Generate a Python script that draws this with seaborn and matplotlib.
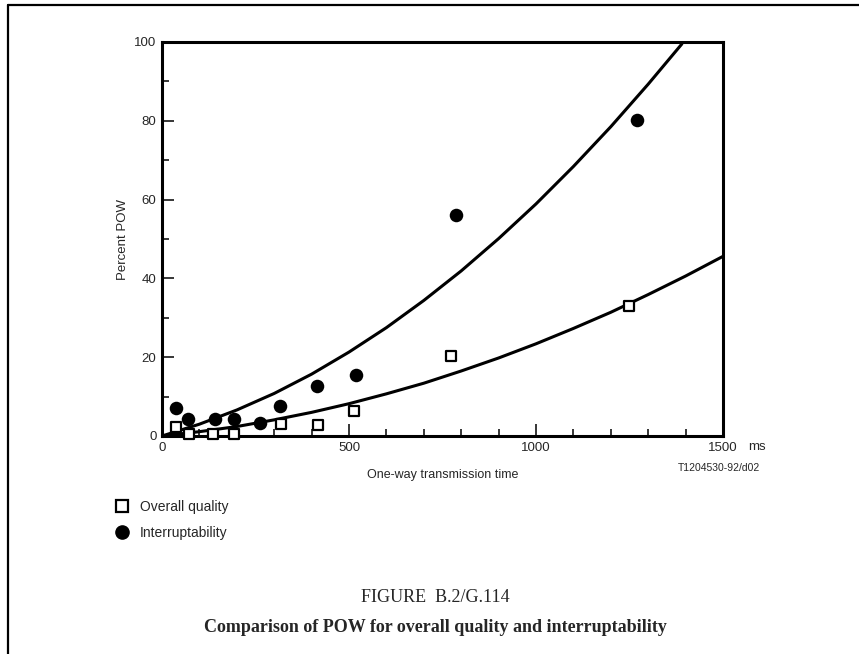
import numpy as np
import pandas as pd
import matplotlib
matplotlib.use("Agg")
import matplotlib.pyplot as plt
from matplotlib.lines import Line2D
from matplotlib.ticker import MultipleLocator, FixedLocator
import seaborn as sns


delay_interrupt = [37, 70, 142, 192, 262, 316, 415, 519, 786, 1269]
pow_interrupt = [7.0, 4.4, 4.4, 4.4, 3.4, 7.7, 12.8, 15.5, 56.2, 80.1]

delay_quality = [37, 72, 137, 192, 318, 416, 514, 772, 1249]
pow_quality = [2.4, 0.4, 0.4, 0.4, 3.1, 2.9, 6.3, 20.3, 32.9]

# Fitted curves
curve_x_interrupt = [0, 100, 200, 300, 400, 500, 600, 700, 800, 900, 1000, 1100, 1200, 1300, 1390]
curve_y_interrupt = [0, 3.0, 6.6, 10.8, 15.7, 21.3, 27.5, 34.4, 41.9, 50.1, 58.9, 68.4, 78.5, 89.3, 99.5]

curve_x_quality = [0, 100, 200, 300, 400, 500, 600, 700, 800, 900, 1000, 1100, 1200, 1300, 1400, 1500]
curve_y_quality = [0, 1.1, 2.4, 4.1, 6.0, 8.2, 10.7, 13.4, 16.5, 19.8, 23.4, 27.3, 31.4, 35.9, 40.6, 45.6]

x_major = [0, 500, 1000, 1500]
y_major = [0, 20, 40, 60, 80, 100]


sns.set_theme(style="white")
plt.rcParams['font.family'] = ['Liberation Sans', 'DejaVu Sans']

fig = plt.figure(figsize=(8.59, 6.54), dpi=100)
ax = fig.add_axes([162 / 859, 1 - 436 / 654, 561 / 859, 394 / 654])

# curves
sns.lineplot(x=curve_x_interrupt, y=curve_y_interrupt, ax=ax, color='black',
             linewidth=2.2, sort=False, zorder=2)
sns.lineplot(x=curve_x_quality, y=curve_y_quality, ax=ax, color='black',
             linewidth=2.2, sort=False, zorder=2)

# points
sns.scatterplot(x=delay_quality, y=pow_quality, ax=ax, marker='s', s=60,
                facecolor='white', edgecolor='black', linewidth=1.6,
                zorder=4, clip_on=False)
sns.scatterplot(x=delay_interrupt, y=pow_interrupt, ax=ax, marker='o', s=95,
                color='black', edgecolor='black', linewidth=0,
                zorder=4, clip_on=False)

ax.set_xlim(0, 1500)
ax.set_ylim(0, 100)
ax.xaxis.set_major_locator(FixedLocator(x_major))
ax.xaxis.set_minor_locator(MultipleLocator(100))
ax.yaxis.set_major_locator(FixedLocator(y_major))
ax.yaxis.set_minor_locator(MultipleLocator(10))
ax.set_xticklabels([str(v) for v in x_major])
ax.set_yticklabels([str(v) for v in y_major])

ax.tick_params(which='both', direction='in', top=False, right=False,
               left=True, bottom=True, color='black', labelsize=9.5)
ax.tick_params(which='major', length=8.5, width=1.1, pad=4)
ax.tick_params(which='minor', length=5, width=1.1)

for sp in ax.spines.values():
    sp.set_linewidth(2.2)
    sp.set_color('black')

ax.set_xlabel('One-way transmission time', fontsize=9, labelpad=11)
ax.set_ylabel('Percent POW', fontsize=9.5, labelpad=4)

fig.text(748 / 859, 1 - 447 / 654, 'ms', fontsize=9.5, va='center', ha='left')
fig.text(719 / 859, 1 - 468 / 654, 'T1204530-92/d02', fontsize=7.5, va='center', ha='center')

# legend below the plot
handles = [
    Line2D([], [], marker='s', linestyle='none', markersize=8.5,
           markerfacecolor='white', markeredgecolor='black', markeredgewidth=1.6),
    Line2D([], [], marker='o', linestyle='none', markersize=9.5,
           markerfacecolor='black', markeredgecolor='black'),
]
fig.legend(handles, ['Overall quality', 'Interruptability'], loc='upper left',
           bbox_to_anchor=(115 / 859, 1 - 500 / 654), frameon=False,
           fontsize=10, handlelength=1.0, handletextpad=0.8, labelspacing=0.83,
           borderaxespad=0, borderpad=0)

# caption
fig.text(435 / 859, 1 - 598 / 654, 'FIGURE  B.2/G.114', fontsize=13,
         family=['Liberation Serif'], ha='center', va='center')
fig.text(435 / 859, 1 - 627 / 654, 'Comparison of POW for overall quality and interruptability',
         fontsize=13, family=['Liberation Serif'], weight='bold', ha='center', va='center')

# page frame (left and top rules)
fig.add_artist(Line2D([8 / 859, 8 / 859], [0, 1 - 5 / 654], color='black', linewidth=1.6,
                      transform=fig.transFigure))
fig.add_artist(Line2D([8 / 859, 1], [1 - 5 / 654, 1 - 5 / 654], color='black', linewidth=1.6,
                      transform=fig.transFigure))

fig.savefig('out.png', dpi=100)
